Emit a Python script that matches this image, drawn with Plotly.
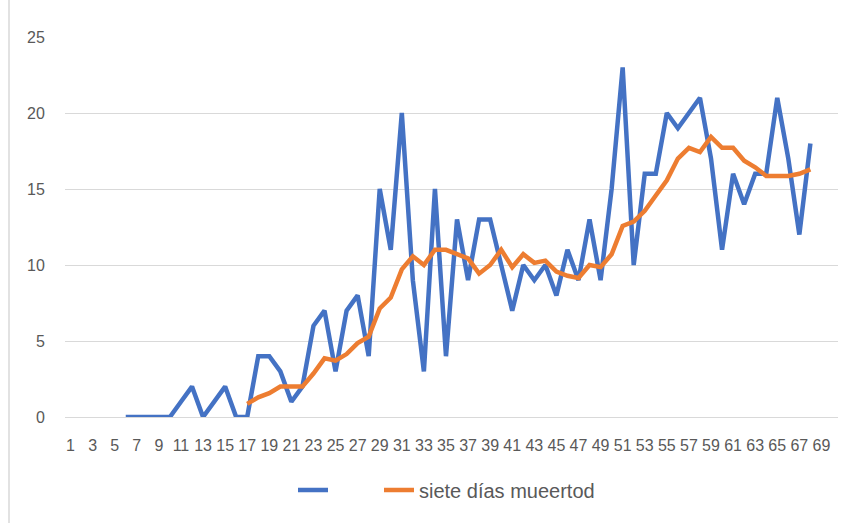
import plotly.graph_objects as go

# Categories on the horizontal axis (1..70; the last one is empty)
categories = list(range(1, 71))
tick_values = list(range(1, 70, 2))
tick_labels = [str(v) for v in tick_values]

# Daily series (blue), days 6..68
blue_days = list(range(6, 69))
blue_values = [0, 0, 0, 0, 0, 1, 2, 0, 1, 2,      # 6-15
               0, 0, 4, 4, 3, 1, 2, 6, 7, 3,      # 16-25
               7, 8, 4, 15, 11, 20, 9, 3, 15, 4,  # 26-35
               13, 9, 13, 13, 10, 7, 10, 9, 10, 8,  # 36-45
               11, 9, 13, 9, 15, 23, 10, 16, 16, 20,  # 46-55
               19, 20, 21, 17, 11, 16, 14, 16, 16, 21,  # 56-65
               17, 12, 18]                          # 66-68

# "siete días mueertod" series (orange), days 17..68
orange_days = list(range(17, 69))
orange_values = [0.86, 1.29, 1.57, 2.0, 2.0, 2.0, 2.86, 3.86, 3.71, 4.14,   # 17-26
                 4.86, 5.29, 7.14, 7.86, 9.71, 10.57, 10.0, 11.0, 11.0, 10.71,  # 27-36
                 10.43, 9.43, 10.0, 11.0, 9.86, 10.71, 10.14, 10.29, 9.57, 9.29,  # 37-46
                 9.14, 10.0, 9.86, 10.71, 12.57, 12.86, 13.57, 14.57, 15.57, 17.0,  # 47-56
                 17.71, 17.43, 18.43, 17.71, 17.71, 16.86, 16.43, 15.86, 15.86, 15.86,  # 57-66
                 16.0, 16.29]                                                    # 67-68

series_names = [" ", "siete días mueertod"]
y_ticks = [0, 5, 10, 15, 20, 25]

W, H = 858, 523
L, R, T, B = 65, 20, 37, 106
plot_w = W - L - R
plot_h = H - T - B

fig = go.Figure()
fig.add_trace(go.Scatter(
    x=blue_days, y=blue_values, mode="lines", name=series_names[0],
    line=dict(color="#4472C4", width=4.5, shape="linear"),
    legend="legend",
))
fig.add_trace(go.Scatter(
    x=orange_days, y=orange_values, mode="lines", name=series_names[1],
    line=dict(color="#ED7D31", width=4.5, shape="linear"),
    legend="legend2",
))

font_family = "Liberation Sans, Arial, sans-serif"
legend_y = (417 - 490) / plot_h

fig.update_layout(
    width=W, height=H,
    margin=dict(l=L, r=R, t=T, b=B, pad=0),
    paper_bgcolor="white", plot_bgcolor="white",
    font=dict(family=font_family, color="#595959", size=16),
    showlegend=True,
    legend=dict(
        orientation="h",
        x=(293 - L) / plot_w, xanchor="left",
        y=legend_y, yanchor="middle",
        font=dict(size=20, color="#595959", family=font_family),
        bgcolor="rgba(0,0,0,0)",
    ),
    legend2=dict(
        orientation="h",
        x=(379 - L) / plot_w, xanchor="left",
        y=legend_y, yanchor="middle",
        font=dict(size=20, color="#595959", family=font_family),
        bgcolor="rgba(0,0,0,0)",
    ),
    xaxis=dict(
        range=[0.5, 70.5],
        tickmode="array", tickvals=tick_values, ticktext=tick_labels,
        showgrid=False, zeroline=False,
        showline=True, linecolor="#d9d9d9", linewidth=1,
        ticks="outside", ticklen=14, tickcolor="rgba(0,0,0,0)",
        tickfont=dict(size=16, color="#595959"),
        tickangle=0,
    ),
    yaxis=dict(
        range=[0, 25],
        tickmode="array", tickvals=y_ticks,
        showgrid=True, gridcolor="#d9d9d9", gridwidth=1,
        zeroline=False, showline=False,
        ticks="outside", ticklen=16, tickcolor="rgba(0,0,0,0)",
        tickfont=dict(size=16, color="#595959"),
    ),
    shapes=[dict(
        type="line", xref="paper", yref="paper",
        x0=(9 - L) / plot_w, x1=(9 - L) / plot_w,
        y0=(H - T) / plot_h + 0.5, y1=-(B) / plot_h,
        line=dict(color="#d9d9d9", width=1.5),
    )],
)

fig.write_html("out.html", config={"displayModeBar": False},
               post_script="document.body.style.margin='0';")
